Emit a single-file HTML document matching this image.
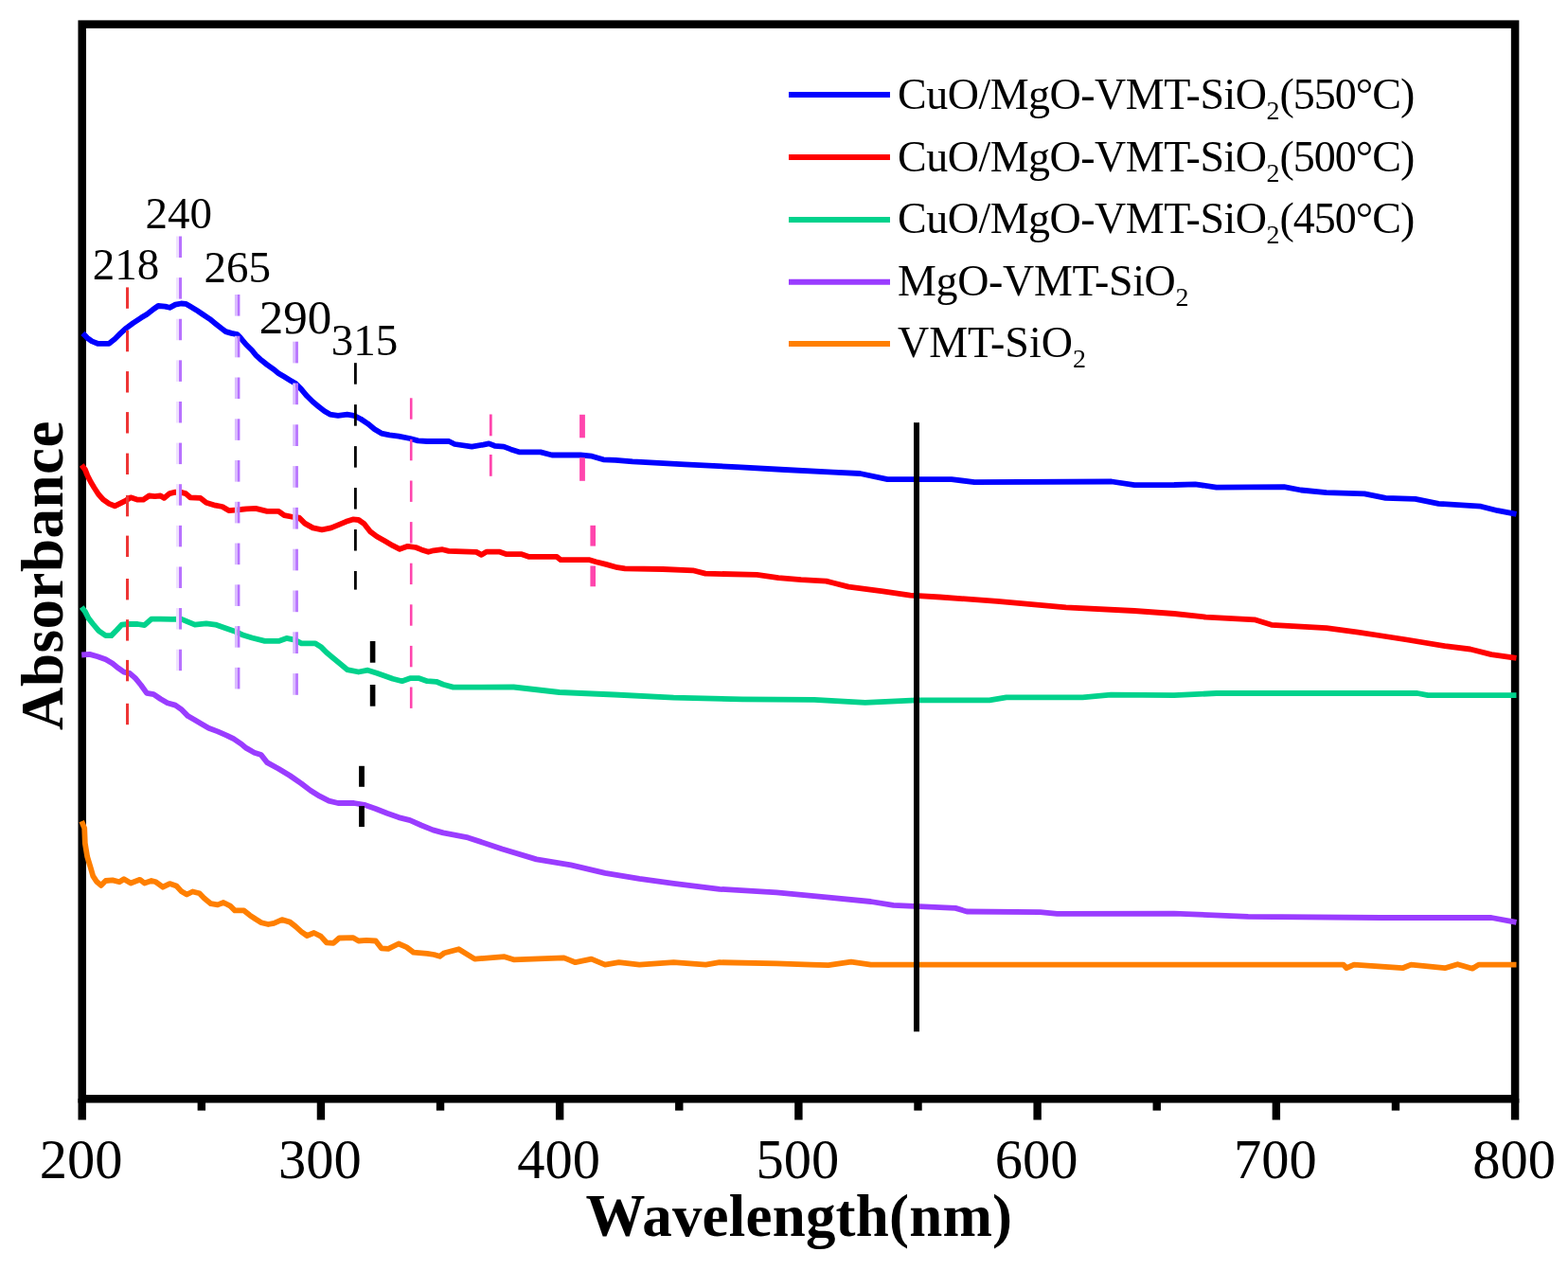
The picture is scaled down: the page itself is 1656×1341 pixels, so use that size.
<!DOCTYPE html>
<html><head><meta charset="utf-8"><title>UV-Vis Absorbance</title>
<style>
html,body{margin:0;padding:0;background:#fff;}
body{width:1656px;height:1341px;overflow:hidden;}
svg{display:block;}
text{font-family:"Liberation Serif","Times New Roman",serif;fill:#000;}
.tl{font-size:58.5px;}
.an{font-size:47px;}
.lg{font-size:46px;}
.sub{font-size:28px;}
.ax{font-size:63px;font-weight:bold;}
</style></head>
<body>
<svg width="1656" height="1341" viewBox="0 0 1656 1341">
<rect x="0" y="0" width="1656" height="1341" fill="#fff"/>
<rect x="86.7" y="25.65" width="1513.4" height="1134.65" fill="none" stroke="#000" stroke-width="8.5"/>
<polyline points="87.4,351.9 92.2,356.8 97.1,360.4 103.1,362.8 115.2,362.8 121.2,358 127.3,351.9 133.3,346.5 140.6,341.1 149,335.6 155,332 161.1,327.2 167.1,323 174.4,323.6 179.2,324.8 185.2,321.7 191.3,320.5 196.1,320.8 200.9,323.6 207,327.2 214.2,332 221.5,336.8 227.5,341.7 233.6,346.5 238.4,350.1 244.4,351.9 250.5,353.1 254.1,356.8 260.1,364 266.2,370 270,374.8 276,380.3 282.1,385.1 288.1,389.3 294.2,394.2 300.2,397.8 306.2,401.4 312.3,405 318.3,411.1 324.3,418.3 330.4,424.3 336.4,429.2 342.5,434 348.5,437.6 357,438.8 366.6,437.6 373.9,438.8 381.1,442.5 388.4,447.3 395.6,453.3 402.8,457.6 411.3,459.4 421,460.6 433,463 441.5,465.4 451.2,466 455,466 474.2,466 480.2,469 498.3,471.6 510.4,469.6 516.4,468.4 522.5,470.8 532.1,471.6 539.4,474.4 549,477.4 570.8,477.4 582.9,480.5 601,480.5 613,480.5 625.1,481.7 637.2,485.3 650,485.8 668,487.4 723,490.3 778,493.2 829,496 880,498.6 908.3,500 937.3,506.1 1004.9,506.1 1029.1,509.2 1174,508.5 1198.2,512.1 1240,512 1262.3,511.3 1284.7,514.6 1356.2,514.2 1374,517.5 1400.9,520.2 1441.1,521.3 1463.4,525.8 1494.7,526.9 1519.3,531.8 1564,534.7 1581.8,539.2 1601.5,542.8" fill="none" stroke="#0000ff" stroke-width="5.8" stroke-linejoin="round" stroke-linecap="butt"/>
<polyline points="86.2,490.9 89.8,495.7 92.2,501.7 95.9,509 99.5,515 104.3,522.3 109.2,527.7 115.2,531.9 121.2,534.3 127.3,531.3 133.3,528.3 138.1,525.3 145.4,527.7 151.4,527.7 157.5,523.5 163.5,524.1 169.5,523.5 173.2,525.9 179.2,521.1 185.2,519.6 191.3,519.9 196.1,521.1 200.9,525.3 211.8,525.9 217.8,530.7 227.5,533.7 234.8,535 242,539.2 248,538.6 260.1,537.4 270,536.9 282.1,539.9 294.2,539.9 300.2,544.2 309.9,546 315.9,546.6 321.9,552.6 330.4,557.4 340,559.3 349.7,557.4 357,554.4 365.4,550.8 372.7,548.4 378.7,549 384.7,553.2 390.8,561.1 398,566.5 406.5,571.3 414.9,576.2 422.2,579.8 430.6,576.8 439.1,578 445.1,580.4 452.4,582.8 458,581.3 467.3,580.2 473.9,581.9 503.1,582.9 508.5,585.9 513.8,582.6 527.1,582.6 535,585.2 551,585.2 558.9,587.9 588.2,587.9 592.2,591.2 622.7,591.2 629.4,593.2 640,595.9 652,599.2 660,600.3 699.9,601 731.7,602.3 745,605.6 799.5,606.9 822.1,610.2 846,612.2 872.6,613.6 880,615.5 896.2,619.6 932.5,624.4 961.4,628.6 992.9,630.5 1053.2,634.8 1125.7,641.4 1198.2,645 1240,648 1273.5,651.6 1324.9,654.3 1342.8,659.8 1400.9,663.2 1434.4,667.7 1456.7,671 1485.8,675.5 1526,682.2 1552.8,685.5 1575.1,691.1 1601.5,694.8" fill="none" stroke="#ff0000" stroke-width="5.8" stroke-linejoin="round" stroke-linecap="butt"/>
<polyline points="86.2,640.9 89.8,645.7 93.5,652.9 98.3,659 104.3,666.2 111.6,671.1 117.6,671.1 123.6,665 128.5,659.6 135.7,659 145.4,659 152.6,660.2 159.9,653.6 169.5,653.6 181.6,653.9 191.3,653.6 198.5,656.6 205.8,659.6 217.8,658.4 227.5,659.6 236,662.6 246.8,666.2 256.5,670.5 266.2,673.5 279.7,676.9 294.2,676.9 302.6,673.9 311.1,675.7 318.3,679.3 332.8,679.3 338.8,682.9 344.9,689 352.1,695 359.4,701.1 366.6,707.1 378.7,709.5 388.4,707.7 398,710.7 406.5,713.7 414.9,716.8 424.6,719.2 433,716.2 442.7,716.2 451.2,719.2 460.8,719.8 468.1,722.8 478.6,725.6 542.5,725.5 590.8,731 648.7,733.5 711.5,736.6 784,738.3 860,738.8 913.7,741.8 967.4,739.4 1045,739.4 1062.8,736.4 1143.4,736.4 1173.2,733.7 1240,734.2 1284.7,732 1496.9,732 1508.1,734.2 1601.5,734.2" fill="none" stroke="#00d28c" stroke-width="5.8" stroke-linejoin="round" stroke-linecap="butt"/>
<polyline points="86.2,691.5 94.7,690.9 103.1,693.3 111.6,696.3 118.8,700.5 124.9,705.4 130.9,709.6 136.9,710.8 143,716.2 149,723.5 155,731.9 162.3,733.1 169.5,738 176.8,742.2 185.2,744.6 191.3,748.8 198.5,756.1 205.8,760.3 213,764.5 220.3,768.8 229.9,772.4 239.6,776.6 246.8,780.2 254.1,785.1 260.1,789.9 268.6,794.7 275.8,797.1 282.1,805.1 294.2,811.7 306.2,819 318.3,827.4 328,834.7 337.6,840.7 347.3,845.6 357,848 373.9,848 384.7,849.8 396.8,854 408.9,858.8 421,863.1 433,866.1 445.1,871.5 457.2,876.4 468.1,879.4 478.6,881.3 494.2,884.4 530.4,896.5 566.6,907.4 602.9,913.4 639,921.9 675.3,927.9 711.5,932.8 759.9,938.8 820.2,942.4 870,947.2 919.7,952 943.5,955.9 1009.1,958.9 1021.1,962.5 1098.6,963.1 1116.5,964.9 1240,964.6 1318.2,967.9 1458.9,969 1575.1,969 1601.5,973.8" fill="none" stroke="#9a3cff" stroke-width="5.8" stroke-linejoin="round" stroke-linecap="butt"/>
<polyline points="86.2,867.2 89.2,874.5 89.8,890.2 92.2,904.7 95.9,916.8 98.3,925.2 101.9,930.7 106.7,934.9 111.6,930 118.8,929.4 126.1,931.3 130.9,928.2 138.1,932.5 147.8,928.8 152.6,932.5 159.9,930 164.7,931.3 172,936.7 179.2,933.1 186.4,935.5 191.3,940.9 197.3,944.5 203.4,941.5 210.6,943.3 215.4,948.2 222.7,954.2 229.9,955.4 236,953 243.2,956.6 248,961.4 257.7,961.4 263.7,966.3 270,970.5 276,974.2 283.3,976 289.3,974.8 297.8,971.1 306.2,973.6 312.3,978.4 318.3,983.8 324.3,988 331.6,985 338.8,988.6 344.9,995.3 352.1,995.9 358.2,990.5 372.7,990.1 378.7,993.5 387.1,992.9 396.8,993.5 402.8,1001.3 410.1,1001.9 421,996.5 429.4,1000.1 436.7,1005.6 451.2,1006.8 458.4,1008 464.4,1009.8 469.3,1006.2 484.5,1002.2 501.4,1012.6 532.8,1010.2 542.5,1013.3 595.6,1011.4 607.7,1016.2 624.6,1012.6 639,1018.6 653.6,1016.2 675.3,1018.6 711.5,1016.2 745.4,1018.6 759.9,1016.2 820.2,1017.4 856.5,1018.6 874.9,1019.2 898.8,1015.6 919.7,1018.6 1240,1018.6 1418.7,1018.6 1422.1,1022.2 1430,1018.6 1481.3,1022.2 1490.2,1018.6 1526,1022.2 1539.4,1018.2 1555,1022.7 1561.7,1018.6 1601.5,1018.6" fill="none" stroke="#ff7f00" stroke-width="5.8" stroke-linejoin="round" stroke-linecap="butt"/>
<rect x="133" y="303.4" width="3" height="22.4" fill="#ee3535"/>
<rect x="133" y="348.9" width="3" height="22.4" fill="#ee3535"/>
<rect x="133" y="392.1" width="3" height="22.4" fill="#ee3535"/>
<rect x="133" y="435.1" width="3" height="22.4" fill="#ee3535"/>
<rect x="133" y="478.6" width="3" height="22.4" fill="#ee3535"/>
<rect x="133" y="522.9" width="3" height="22.4" fill="#ee3535"/>
<rect x="133" y="565.6" width="3" height="22.4" fill="#ee3535"/>
<rect x="133" y="611" width="3" height="22.4" fill="#ee3535"/>
<rect x="133" y="654.2" width="3" height="22.4" fill="#ee3535"/>
<rect x="133" y="696.9" width="3" height="22.4" fill="#ee3535"/>
<rect x="133" y="742.8" width="3" height="22.4" fill="#ee3535"/>
<rect x="186.00" y="249.50" width="3" height="22.50" fill="#efe0ff"/>
<rect x="186.00" y="293.12" width="3" height="22.50" fill="#efe0ff"/>
<rect x="186.00" y="336.74" width="3" height="22.50" fill="#efe0ff"/>
<rect x="186.00" y="380.36" width="3" height="22.50" fill="#efe0ff"/>
<rect x="186.00" y="423.98" width="3" height="22.50" fill="#efe0ff"/>
<rect x="186.00" y="467.60" width="3" height="22.50" fill="#efe0ff"/>
<rect x="186.00" y="511.22" width="3" height="22.50" fill="#efe0ff"/>
<rect x="186.00" y="554.84" width="3" height="22.50" fill="#efe0ff"/>
<rect x="186.00" y="598.46" width="3" height="22.50" fill="#efe0ff"/>
<rect x="186.00" y="642.08" width="3" height="22.50" fill="#efe0ff"/>
<rect x="186.00" y="685.70" width="3" height="22.50" fill="#efe0ff"/>
<rect x="189.00" y="249.50" width="3" height="22.50" fill="#b872ff"/>
<rect x="189.00" y="293.12" width="3" height="22.50" fill="#b872ff"/>
<rect x="189.00" y="336.74" width="3" height="22.50" fill="#b872ff"/>
<rect x="189.00" y="380.36" width="3" height="22.50" fill="#b872ff"/>
<rect x="189.00" y="423.98" width="3" height="22.50" fill="#b872ff"/>
<rect x="189.00" y="467.60" width="3" height="22.50" fill="#b872ff"/>
<rect x="189.00" y="511.22" width="3" height="22.50" fill="#b872ff"/>
<rect x="189.00" y="554.84" width="3" height="22.50" fill="#b872ff"/>
<rect x="189.00" y="598.46" width="3" height="22.50" fill="#b872ff"/>
<rect x="189.00" y="642.08" width="3" height="22.50" fill="#b872ff"/>
<rect x="189.00" y="685.70" width="3" height="22.50" fill="#b872ff"/>
<rect x="247.90" y="311.00" width="2.8" height="22.60" fill="#dabcff"/>
<rect x="247.90" y="354.76" width="2.8" height="22.60" fill="#dabcff"/>
<rect x="247.90" y="398.52" width="2.8" height="22.60" fill="#dabcff"/>
<rect x="247.90" y="442.28" width="2.8" height="22.60" fill="#dabcff"/>
<rect x="247.90" y="486.04" width="2.8" height="22.60" fill="#dabcff"/>
<rect x="247.90" y="529.80" width="2.8" height="22.60" fill="#dabcff"/>
<rect x="247.90" y="573.56" width="2.8" height="22.60" fill="#dabcff"/>
<rect x="247.90" y="617.32" width="2.8" height="22.60" fill="#dabcff"/>
<rect x="247.90" y="661.08" width="2.8" height="22.60" fill="#dabcff"/>
<rect x="247.90" y="704.84" width="2.8" height="22.60" fill="#dabcff"/>
<rect x="250.70" y="311.00" width="2.7" height="22.60" fill="#b773ff"/>
<rect x="250.70" y="354.76" width="2.7" height="22.60" fill="#b773ff"/>
<rect x="250.70" y="398.52" width="2.7" height="22.60" fill="#b773ff"/>
<rect x="250.70" y="442.28" width="2.7" height="22.60" fill="#b773ff"/>
<rect x="250.70" y="486.04" width="2.7" height="22.60" fill="#b773ff"/>
<rect x="250.70" y="529.80" width="2.7" height="22.60" fill="#b773ff"/>
<rect x="250.70" y="573.56" width="2.7" height="22.60" fill="#b773ff"/>
<rect x="250.70" y="617.32" width="2.7" height="22.60" fill="#b773ff"/>
<rect x="250.70" y="661.08" width="2.7" height="22.60" fill="#b773ff"/>
<rect x="250.70" y="704.84" width="2.7" height="22.60" fill="#b773ff"/>
<rect x="309.20" y="360.70" width="2.8" height="22.70" fill="#dabcff"/>
<rect x="309.20" y="404.50" width="2.8" height="22.70" fill="#dabcff"/>
<rect x="309.20" y="448.30" width="2.8" height="22.70" fill="#dabcff"/>
<rect x="309.20" y="492.10" width="2.8" height="22.70" fill="#dabcff"/>
<rect x="309.20" y="535.90" width="2.8" height="22.70" fill="#dabcff"/>
<rect x="309.20" y="579.70" width="2.8" height="22.70" fill="#dabcff"/>
<rect x="309.20" y="623.50" width="2.8" height="22.70" fill="#dabcff"/>
<rect x="309.20" y="667.30" width="2.8" height="22.70" fill="#dabcff"/>
<rect x="309.20" y="711.10" width="2.8" height="22.70" fill="#dabcff"/>
<rect x="312.10" y="360.70" width="2.8" height="22.70" fill="#b773ff"/>
<rect x="312.10" y="404.50" width="2.8" height="22.70" fill="#b773ff"/>
<rect x="312.10" y="448.30" width="2.8" height="22.70" fill="#b773ff"/>
<rect x="312.10" y="492.10" width="2.8" height="22.70" fill="#b773ff"/>
<rect x="312.10" y="535.90" width="2.8" height="22.70" fill="#b773ff"/>
<rect x="312.10" y="579.70" width="2.8" height="22.70" fill="#b773ff"/>
<rect x="312.10" y="623.50" width="2.8" height="22.70" fill="#b773ff"/>
<rect x="312.10" y="667.30" width="2.8" height="22.70" fill="#b773ff"/>
<rect x="312.10" y="711.10" width="2.8" height="22.70" fill="#b773ff"/>
<rect x="374.00" y="383.20" width="2.8" height="22.50" fill="#000"/>
<rect x="374.00" y="427.16" width="2.8" height="22.50" fill="#000"/>
<rect x="374.00" y="471.12" width="2.8" height="22.50" fill="#000"/>
<rect x="374.00" y="515.08" width="2.8" height="22.50" fill="#000"/>
<rect x="374.00" y="559.04" width="2.8" height="22.50" fill="#000"/>
<rect x="374.00" y="603.00" width="2.8" height="19.60" fill="#000"/>
<rect x="432.90" y="420.30" width="2.6" height="22.40" fill="#ff45ad"/>
<rect x="432.90" y="463.90" width="2.6" height="22.40" fill="#ff45ad"/>
<rect x="432.90" y="507.50" width="2.6" height="22.40" fill="#ff45ad"/>
<rect x="432.90" y="551.10" width="2.6" height="22.40" fill="#ff45ad"/>
<rect x="432.90" y="594.70" width="2.6" height="22.40" fill="#ff45ad"/>
<rect x="432.90" y="638.30" width="2.6" height="22.40" fill="#ff45ad"/>
<rect x="432.90" y="681.90" width="2.6" height="22.40" fill="#ff45ad"/>
<rect x="432.90" y="725.50" width="2.6" height="22.40" fill="#ff45ad"/>
<rect x="516.90" y="437.50" width="2.8" height="22.80" fill="#ff45ad"/>
<rect x="516.90" y="480.00" width="2.8" height="22.80" fill="#ff45ad"/>
<rect x="612.10" y="437.80" width="5.8" height="24.50" fill="#ff45ad"/>
<rect x="612.10" y="483.30" width="5.8" height="24.50" fill="#ff45ad"/>
<rect x="623.40" y="554.80" width="5.6" height="21.80" fill="#ff45ad"/>
<rect x="623.40" y="597.50" width="5.6" height="21.80" fill="#ff45ad"/>
<rect x="390.80" y="677.00" width="5.6" height="22.70" fill="#000"/>
<rect x="390.80" y="723.00" width="5.6" height="22.70" fill="#000"/>
<rect x="379.10" y="808.80" width="5.8" height="22.00" fill="#000"/>
<rect x="379.10" y="851.10" width="5.8" height="22.00" fill="#000"/>
<rect x="965" y="446.2" width="6" height="643.1" fill="#000"/>
<rect x="82.50" y="1160" width="8.4" height="22.5" fill="#000"/>
<rect x="208.62" y="1160" width="8.4" height="12.6" fill="#000"/>
<rect x="334.73" y="1160" width="8.4" height="22.5" fill="#000"/>
<rect x="460.84" y="1160" width="8.4" height="12.6" fill="#000"/>
<rect x="586.96" y="1160" width="8.4" height="22.5" fill="#000"/>
<rect x="713.08" y="1160" width="8.4" height="12.6" fill="#000"/>
<rect x="839.19" y="1160" width="8.4" height="22.5" fill="#000"/>
<rect x="965.30" y="1160" width="8.4" height="12.6" fill="#000"/>
<rect x="1091.42" y="1160" width="8.4" height="22.5" fill="#000"/>
<rect x="1217.54" y="1160" width="8.4" height="12.6" fill="#000"/>
<rect x="1343.65" y="1160" width="8.4" height="22.5" fill="#000"/>
<rect x="1469.77" y="1160" width="8.4" height="12.6" fill="#000"/>
<rect x="1595.88" y="1160" width="8.4" height="22.5" fill="#000"/>
<text x="85.70" y="1244" text-anchor="middle" class="tl">200</text>
<text x="337.93" y="1244" text-anchor="middle" class="tl">300</text>
<text x="590.16" y="1244" text-anchor="middle" class="tl">400</text>
<text x="842.39" y="1244" text-anchor="middle" class="tl">500</text>
<text x="1094.62" y="1244" text-anchor="middle" class="tl">600</text>
<text x="1346.85" y="1244" text-anchor="middle" class="tl">700</text>
<text x="1599.08" y="1244" text-anchor="middle" class="tl">800</text>
<text x="618.5" y="1305" class="ax" style="letter-spacing:0.2px">Wavelength(nm)</text>
<text transform="translate(65.8,771) rotate(-90)" x="0" y="0" class="ax" style="letter-spacing:0.5px">Absorbance</text>
<text x="97.8" y="294.9" class="an">218</text>
<text x="153.5" y="240.7" class="an">240</text>
<text x="215.5" y="297.5" class="an">265</text>
<text x="273.8" y="351.8" class="an" style="font-size:51px">290</text>
<text x="349.8" y="374.7" class="an">315</text>
<line x1="833" x2="940" y1="100" y2="100" stroke="#0000ff" stroke-width="6"/>
<text x="948" y="114.5" class="lg" style="letter-spacing:-0.5px">CuO/MgO-VMT-SiO<tspan class="sub" dy="11" style="letter-spacing:0">2</tspan><tspan dy="-11" style="letter-spacing:-1px">(550°C)</tspan></text>
<line x1="833" x2="940" y1="166" y2="166" stroke="#ff0000" stroke-width="6"/>
<text x="948" y="180.5" class="lg" style="letter-spacing:-0.5px">CuO/MgO-VMT-SiO<tspan class="sub" dy="11" style="letter-spacing:0">2</tspan><tspan dy="-11" style="letter-spacing:-1px">(500°C)</tspan></text>
<line x1="833" x2="940" y1="231.9" y2="231.9" stroke="#00d28c" stroke-width="6"/>
<text x="948" y="246.4" class="lg" style="letter-spacing:-0.5px">CuO/MgO-VMT-SiO<tspan class="sub" dy="11" style="letter-spacing:0">2</tspan><tspan dy="-11" style="letter-spacing:-1px">(450°C)</tspan></text>
<line x1="833" x2="940" y1="297.8" y2="297.8" stroke="#9a3cff" stroke-width="6"/>
<text x="948" y="312.3" class="lg" style="letter-spacing:-0.35px">MgO-VMT-SiO<tspan class="sub" dy="11" style="letter-spacing:0">2</tspan></text>
<line x1="833" x2="940" y1="362.9" y2="362.9" stroke="#ff7f00" stroke-width="6"/>
<text x="948" y="377.4" class="lg" style="letter-spacing:0px">VMT-SiO<tspan class="sub" dy="11" style="letter-spacing:0">2</tspan></text>
</svg>
</body></html>
